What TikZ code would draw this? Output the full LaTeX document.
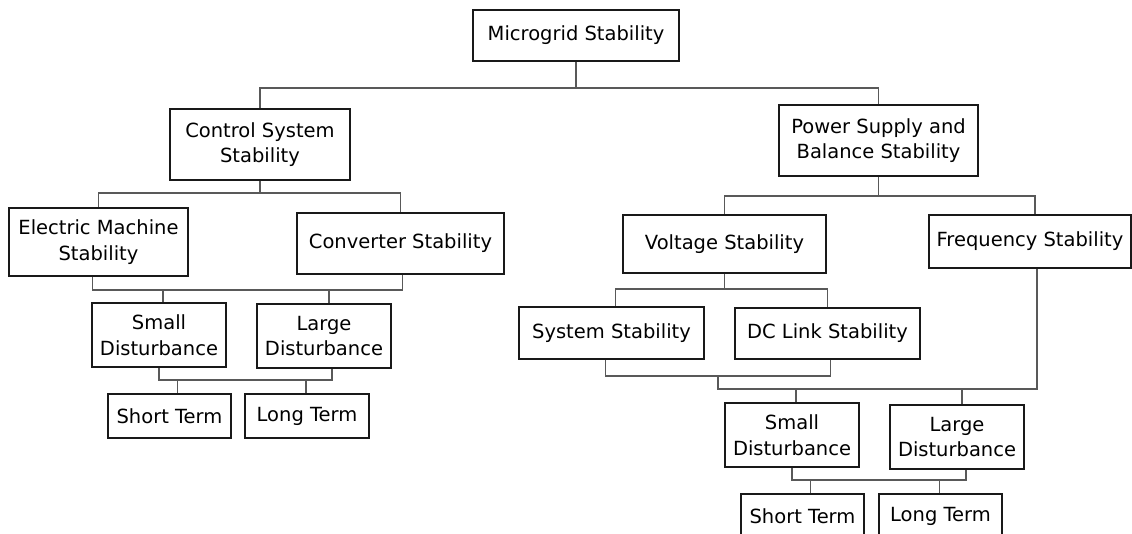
\documentclass[tikz,border=0pt]{standalone}
\usepackage{fontspec}
\setmainfont{DejaVu Sans}
\usepackage{xcolor}
\usepackage{tikz}
\usetikzlibrary{positioning}
\tikzset{
    mybox/.style = {rectangle, draw=black!90, line width=1.6pt, align=center, inner sep=2pt, fill=white},
    conn/.style = {-, line width=1.3pt, draw=black!65},
}

\begin{document}
\begin{tikzpicture}[
	x=1pt, y=-1pt,
	font=\fontsize{19.5}{25.5}\selectfont
]
\useasboundingbox (0,0) rectangle (1132,534);
\clip (0,0) rectangle (1132,534);
% level 0 and 1
\node[mybox, minimum width=206, minimum height=51] at (576,35.5) (root) {Microgrid Stability};
\node[mybox, minimum width=180, minimum height=71] at (260,144.5) (css) {Control System\\Stability};
\node[mybox, minimum width=199, minimum height=71] at (878.5,140.5) (psbs) {Power Supply and\\Balance Stability};
% left branch
\node[mybox, minimum width=179, minimum height=68] at (98.5,242) (ems) {Electric Machine\\Stability};
\node[mybox, minimum width=207, minimum height=61] at (400.5,243.5) (conv) {Converter Stability};
\node[mybox, minimum width=134, minimum height=64] at (159,335) (sdl) {Small\\Disturbance};
\node[mybox, minimum width=134, minimum height=64] at (324,336) (ldl) {Large\\Disturbance};
\node[mybox, minimum width=123, minimum height=44] at (169.5,416) (stl) {Short Term};
\node[mybox, minimum width=124, minimum height=44] at (307,416) (ltl) {Long Term};
% right branch
\node[mybox, minimum width=203, minimum height=58] at (724.5,244) (vs) {Voltage Stability};
\node[mybox, minimum width=202, minimum height=53] at (1030,241.5) (fs) {Frequency Stability};
\node[mybox, minimum width=185, minimum height=52] at (611.5,333) (ss) {System Stability};
\node[mybox, minimum width=185, minimum height=51] at (827.5,333.5) (dc) {DC Link Stability};
\node[mybox, minimum width=134, minimum height=64] at (792,435) (sdr) {Small\\Disturbance};
\node[mybox, minimum width=134, minimum height=64] at (957,437) (ldr) {Large\\Disturbance};
\node[mybox, minimum width=123, minimum height=44] at (802.5,516) (str) {Short Term};
\node[mybox, minimum width=123, minimum height=44] at (940.5,516) (ltr) {Long Term};
%
\coordinate (b1) at (576,88);
\coordinate (b2) at (258,193);
\coordinate (b3) at (246,290);
\coordinate (b4) at (245,380);
\coordinate (b5) at (878,196);
\coordinate (b6) at (723,289);
\coordinate (b7) at (718,376);
\coordinate (b8) at (718,389);
\coordinate (b9) at (880,480);
%
\draw[conn] (root) -- (b1);
\draw[conn] (css.north) |- (b1) -| (psbs.north);
%
\draw[conn] (css.south) -- (css.south |- b2);
\draw[conn] (ems.north) |- (b2) -| (conv.north);
\draw[conn] ([xshift=-6]ems.south) |- (b3) -| ([xshift=2]conv.south);
\draw[conn] ([xshift=4]sdl.north) -- ([xshift=4]sdl.north |- b3);
\draw[conn] ([xshift=5]ldl.north) -- ([xshift=5]ldl.north |- b3);
\draw[conn] (sdl.south) |- (b4) -| ([xshift=8]ldl.south);
\draw[conn] ([xshift=8]stl.north) -- ([xshift=8]stl.north |- b4);
\draw[conn] ([xshift=-1]ltl.north) -- ([xshift=-1]ltl.north |- b4);
%
\draw[conn] (psbs.south) -- (psbs.south |- b5);
\draw[conn] (vs.north) |- (b5) -| ([xshift=5]fs.north);
\draw[conn] (vs.south) -- (vs.south |- b6);
\draw[conn] ([xshift=4]ss.north) |- (b6) -| (dc.north);
\draw[conn] ([xshift=-6]ss.south) |- (b7) -| ([xshift=3]dc.south);
\draw[conn] ([xshift=7]fs.south) |- (b8) -- (b7);
\draw[conn] ([xshift=4]sdr.north) -- ([xshift=4]sdr.north |- b8);
\draw[conn] ([xshift=5]ldr.north) -- ([xshift=5]ldr.north |- b8);
\draw[conn] (sdr.south) |- (b9) -| ([xshift=9]ldr.south);
\draw[conn] ([xshift=8]str.north) -- ([xshift=8]str.north |- b9);
\draw[conn] ([xshift=-1]ltr.north) -- ([xshift=-1]ltr.north |- b9);
\end{tikzpicture}
\end{document}
